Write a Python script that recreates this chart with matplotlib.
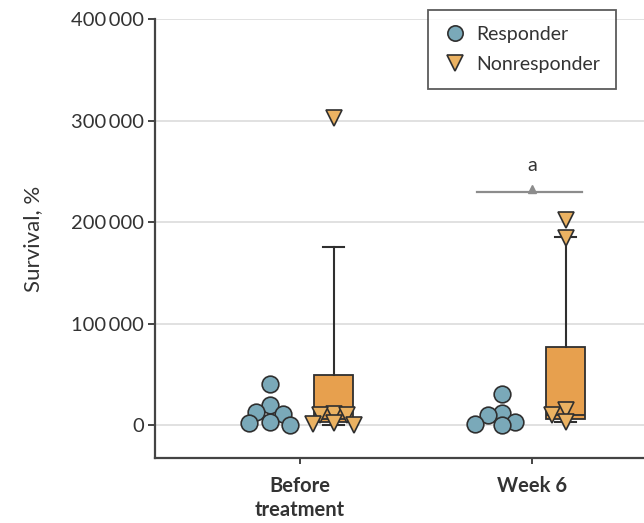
import matplotlib
matplotlib.use("Agg")
import matplotlib.pyplot as plt
import numpy as np

# ---- data ----
groups = ["Before\ntreatment", "Week 6"]
resp_before = [40000, 20000, 13000, 11000, 3000, 1500, 500]
resp_week6 = [31000, 12000, 10000, 2500, 1000, 0]
nonresp_before = [302000, 11000, 10000, 9500, 1500, 1000, 500]
nonresp_week6 = [202000, 184000, 15000, 10000, 3000]

# box stats for nonresponders: whislo, q1, med, q3, whishi
nr_whislo = [500, 3000]
nr_q1 = [3000, 6000]
nr_med = [6000, 10000]
nr_q3 = [49000, 77000]
nr_whishi = [175000, 185000]

yticks = [0, 100000, 200000, 300000, 400000]
ytick_labels = ["0", "100\u2009000", "200\u2009000", "300\u2009000", "400\u2009000"]

sig_y = 230000
sig_label = "a"

# ---- style ----
BLUE = "#7aa9b9"
ORANGE = "#e7a04e"
TRI = "#ebb262"
EDGE = "#2f2f2f"
GRID = "#dcdcdc"
TXT = "#333333"

plt.rcParams["font.family"] = ["Lato", "DejaVu Sans"]

fig = plt.figure(figsize=(6.44, 5.23), dpi=100)
W, H = 644, 523
ax = fig.add_axes([155 / W, 1 - 458 / H, (677 - 155) / W, (458 - 19) / H])
ax.set_xlim(-0.625, 1.625)
ax.set_ylim(-32500, 400000)

ax.set_yticks(yticks)
ax.set_yticklabels(ytick_labels, fontsize=14.5, color=TXT)
ax.set_xticks(range(len(groups)))
ax.set_xticklabels(groups, fontsize=14.5, color=TXT, fontweight="bold",
                   linespacing=1.25)
ax.yaxis.grid(True, color=GRID, lw=1.2)
ax.set_axisbelow(True)
for s in ["top", "right"]:
    ax.spines[s].set_visible(False)
for s in ["left", "bottom"]:
    ax.spines[s].set_color("#444444")
    ax.spines[s].set_linewidth(1.6)
ax.tick_params(axis="y", length=5, width=1.4, color="#444444", pad=3)
ax.tick_params(axis="x", length=4, width=1.4, color="#444444", pad=9)
ax.set_ylabel("Survival, %", fontsize=16, color=TXT, labelpad=20)

R_OFF, N_OFF = -0.13, 0.145

# boxes
stats = []
for i in range(len(groups)):
    stats.append(dict(whislo=nr_whislo[i], q1=nr_q1[i], med=nr_med[i],
                      q3=nr_q3[i], whishi=nr_whishi[i], fliers=[]))
ax.bxp(stats, positions=[i + N_OFF for i in range(len(groups))], widths=0.17,
       patch_artist=True, showfliers=False, manage_ticks=False,
       boxprops=dict(facecolor=ORANGE, edgecolor=EDGE, lw=1.3),
       medianprops=dict(color=EDGE, lw=1.3),
       whiskerprops=dict(color=EDGE, lw=1.5),
       capprops=dict(color=EDGE, lw=1.5), capwidths=0.09, zorder=2)


def swarm(center, values, diam_px, sep=0.7, step_frac=0.4):
    """simple deterministic beeswarm in pixel space (overlap allowed)"""
    tr = ax.transData
    inv = tr.inverted()
    step = inv.transform((diam_px * step_frac, 0))[0] - inv.transform((0, 0))[0]
    min_d = diam_px * sep
    pts, xs = [], []
    for v in sorted(values, reverse=True):
        yp = tr.transform((center, v))[1]
        k = 0
        while True:
            sign = 1 if k % 2 == 0 else -1
            off = sign * ((k + 1) // 2) * step
            xp = tr.transform((center + off, v))[0]
            if all((xp - a) ** 2 + (yp - b) ** 2 >= min_d ** 2 for a, b in pts):
                break
            k += 1
        pts.append((xp, yp))
        xs.append(center + off)
    return xs, sorted(values, reverse=True)


for i, vals in enumerate([resp_before, resp_week6]):
    xs, ys = swarm(i + R_OFF, vals, 17)
    ax.plot(xs, ys, "o", ms=12, mfc=BLUE, mec=EDGE, mew=1.2, ls="none", zorder=3)
for i, vals in enumerate([nonresp_before, nonresp_week6]):
    xs, ys = swarm(i + N_OFF, vals, 15, sep=0.62, step_frac=0.45)
    ax.plot(xs, ys, "v", ms=11, mfc=TRI, mec=EDGE, mew=1.2, ls="none", zorder=3)

# significance bracket
ax.plot([1 - 0.235, 1 + 0.215], [sig_y, sig_y], color="#8c8c8c", lw=1.6, zorder=2)
ax.plot([1], [sig_y + 2500], "^", ms=6, color="#8c8c8c", zorder=2)
ax.text(1, sig_y + 17000, sig_label, ha="center", va="bottom", fontsize=14, color=TXT)

# legend
h1, = ax.plot([], [], "o", ms=11, mfc=BLUE, mec=EDGE, mew=1.2, ls="none")
h2, = ax.plot([], [], "v", ms=11, mfc=TRI, mec=EDGE, mew=1.2, ls="none")
leg = fig.legend([h1, h2], ["Responder", "Nonresponder"], loc="upper right",
                 bbox_to_anchor=(616 / W, 1 - 10 / H), fontsize=14,
                 frameon=True, fancybox=False, edgecolor="#333333",
                 handletextpad=0.5, borderpad=0.8, labelspacing=0.7,
                 handlelength=1.2, borderaxespad=0)
leg.get_frame().set_linewidth(1.3)
for t in leg.get_texts():
    t.set_color(TXT)

fig.savefig("out.png", dpi=100)
